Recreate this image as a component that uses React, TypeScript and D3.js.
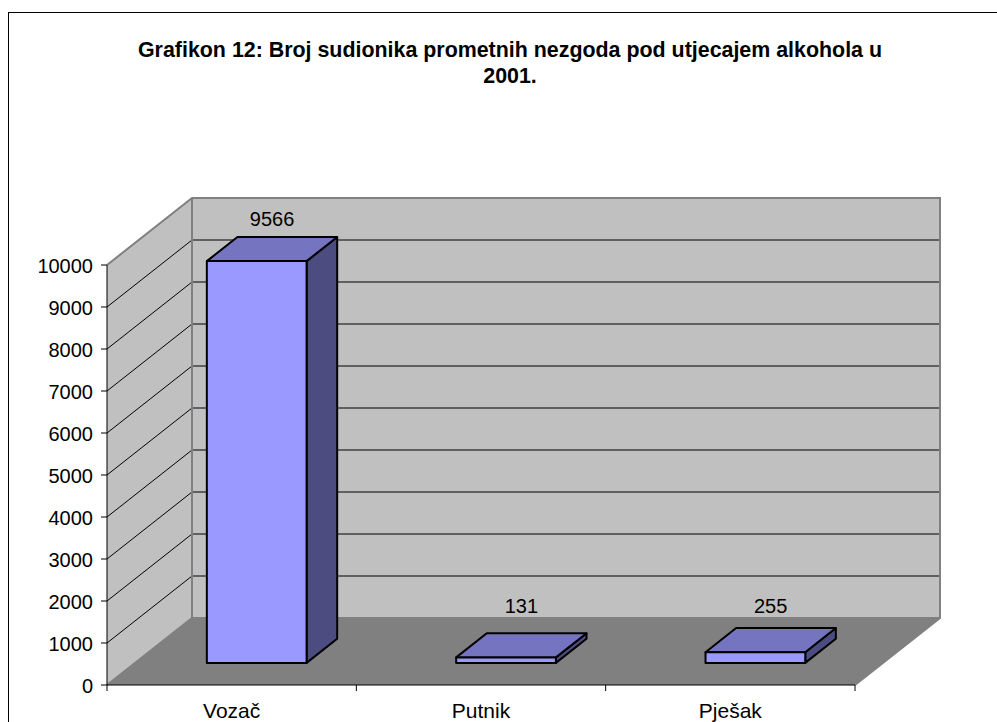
import * as d3 from 'd3'

const categories = ['Vozač', 'Putnik', 'Pješak']
const values = [9566, 131, 255]
const yTicks = [0, 1000, 2000, 3000, 4000, 5000, 6000, 7000, 8000, 9000, 10000]
const titleLines = ['Grafikon 12: Broj sudionika prometnih nezgoda pod utjecajem alkohola u', '2001.']

const W = 997
const H = 722
const font = 'Arial, "Liberation Sans", sans-serif'

export default function App() {
  // front plane of the plot
  const x0 = 107
  const x1 = 855
  const yBase = 685
  const yTop = 265
  // depth of the 3D box
  const DX = 85
  const DY = 67

  const y = d3.scaleLinear().domain([0, 10000]).range([yBase, yTop])
  const x = d3.scalePoint<string>().domain(categories).range([x0, x1]).padding(0.5)
  const barW = x.step() * 0.4

  // bar sits between these depth fractions
  const f1 = 0.33
  const f2 = 0.69

  const pt = (p: [number, number][]) => p.map(d => d.join(',')).join(' ')

  const gridVals = yTicks.filter(v => v > 0 && v < 10000)

  return (
    <svg width={W} height={H} style={{ position: 'absolute', left: 0, top: 0, background: '#fff' }}>
      <rect x={8.5} y={12.5} width={1200} height={800} fill="#fff" stroke="#000" strokeWidth={1} />

      {/* title */}
      {titleLines.map((t, i) => (
        <text key={i} x={510} y={57 + i * 26} textAnchor="middle" fontFamily={font} fontWeight="bold" fontSize={21.4}>
          {t}
        </text>
      ))}

      {/* side wall */}
      <polygon points={pt([[x0, y(0)], [x0, y(10000)], [x0 + DX, y(10000) - DY], [x0 + DX, y(0) - DY]])} fill="#c0c0c0" />
      {/* back wall */}
      <polygon points={pt([[x0 + DX, y(10000) - DY], [x1 + DX, y(10000) - DY], [x1 + DX, y(0) - DY], [x0 + DX, y(0) - DY]])} fill="#c0c0c0" />
      {/* floor */}
      <polygon points={pt([[x0, y(0)], [x1, y(0)], [x1 + DX, y(0) - DY], [x0 + DX, y(0) - DY]])} fill="#808080" />

      {/* gridlines */}
      {gridVals.map(v => (
        <g key={v}>
          <line x1={x0} y1={y(v)} x2={x0 + DX} y2={y(v) - DY} stroke="#000" strokeWidth={1} />
          <line x1={x0 + DX} y1={y(v) - DY} x2={x1 + DX} y2={y(v) - DY} stroke="#000" strokeWidth={1} />
        </g>
      ))}

      {/* wall edges */}
      <polyline
        points={pt([[x0, y(10000)], [x0 + DX, y(10000) - DY], [x1 + DX, y(10000) - DY], [x1 + DX, y(0) - DY], [x1, y(0)]])}
        fill="none" stroke="#808080" strokeWidth={2}
      />
      <polyline
        points={pt([[x0, y(0)], [x0 + DX, y(0) - DY], [x1 + DX, y(0) - DY]])}
        fill="none" stroke="#808080" strokeWidth={2}
      />
      <line x1={x0 + DX} y1={y(10000) - DY} x2={x0 + DX} y2={y(0) - DY} stroke="#808080" strokeWidth={2} />

      {/* axes */}
      <line x1={x0} y1={y(0)} x2={x0} y2={y(10000)} stroke="#000" strokeWidth={1} />
      <line x1={x0} y1={y(0)} x2={x1} y2={y(0)} stroke="#000" strokeWidth={1} />
      {yTicks.map(v => (
        <g key={v}>
          <line x1={x0 - 6} y1={y(v)} x2={x0} y2={y(v)} stroke="#000" />
          <text x={x0 - 14} y={y(v) + 8} textAnchor="end" fontFamily={font} fontSize={20}>
            {v}
          </text>
        </g>
      ))}
      {[0, 1, 2, 3].map(i => {
        const tx = x0 + i * x.step()
        return <line key={i} x1={tx} y1={y(0)} x2={tx} y2={y(0) + 6} stroke="#000" />
      })}
      {categories.map(c => (
        <text key={c} x={x(c)!} y={y(0) + 33} textAnchor="middle" fontFamily={font} fontSize={21}>
          {c}
        </text>
      ))}

      {/* bars */}
      {categories.map((c, i) => {
        const v = values[i]
        const cx = x(c)! - 3
        const fx = cx - barW / 2 + f1 * DX
        const fb = y(0) - f1 * DY
        const ft = fb - (y(0) - y(v))
        const ddx = (f2 - f1) * DX
        const ddy = (f2 - f1) * DY
        const labelY = Math.min(ft - ddy - 11, y(0) - DY - 5)
        return (
          <g key={c} stroke="#000" strokeWidth={2} strokeLinejoin="round">
            <polygon points={pt([[fx + barW, ft], [fx + barW + ddx, ft - ddy], [fx + barW + ddx, fb - ddy], [fx + barW, fb]])} fill="#4c4c80" />
            <polygon points={pt([[fx, ft], [fx + ddx, ft - ddy], [fx + barW + ddx, ft - ddy], [fx + barW, ft]])} fill="#7474c0" />
            <rect x={fx} y={ft} width={barW} height={fb - ft} fill="#9999ff" />
            <text
              x={fx + barW / 2 + ddx / 2}
              y={labelY}
              textAnchor="middle"
              fontFamily={font}
              fontSize={20}
              stroke="none"
              fill="#000"
            >
              {v}
            </text>
          </g>
        )
      })}
    </svg>
  )
}
